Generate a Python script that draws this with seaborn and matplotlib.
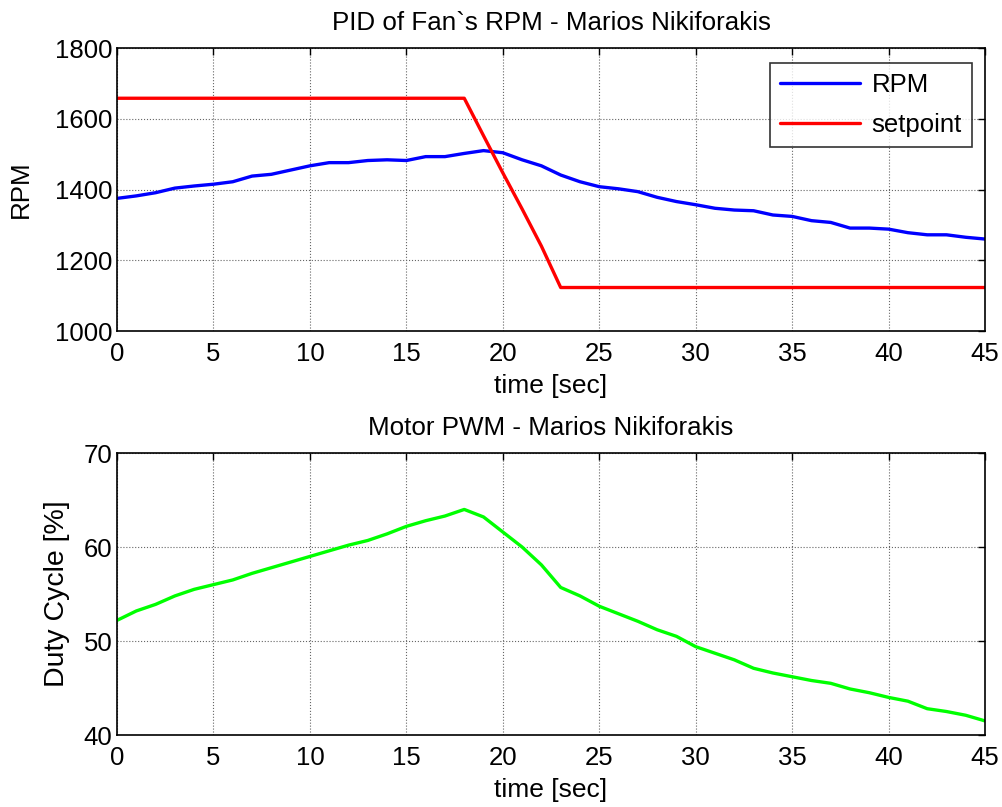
import matplotlib
matplotlib.use("Agg")
import matplotlib.pyplot as plt
import seaborn as sns
import pandas as pd

# sample times [sec]
time_s = list(range(46))

rpm = [1375, 1382, 1391, 1404, 1410, 1415, 1422, 1438, 1443, 1455,
       1467, 1476, 1476, 1482, 1484, 1482, 1493, 1493, 1502, 1510,
       1504, 1484, 1467, 1441, 1422, 1408, 1402, 1394, 1378, 1366,
       1357, 1347, 1342, 1340, 1328, 1324, 1312, 1307, 1291, 1291,
       1288, 1278, 1272, 1272, 1265, 1260]

setpoint_t = [0, 18, 19, 20, 21, 22, 23, 45]
setpoint = [1658, 1658, 1552, 1447, 1345, 1240, 1123, 1123]

duty = [52.2, 53.2, 53.9, 54.8, 55.5, 56.0, 56.5, 57.2, 57.8, 58.4,
        59.0, 59.6, 60.2, 60.7, 61.4, 62.2, 62.8, 63.3, 64.0, 63.2,
        61.6, 60.0, 58.1, 55.7, 54.8, 53.7, 52.9, 52.1, 51.2, 50.5,
        49.4, 48.7, 48.0, 47.1, 46.6, 46.2, 45.8, 45.5, 44.9, 44.5,
        44.0, 43.6, 42.8, 42.5, 42.1, 41.5]

x_ticks = list(range(0, 46, 5))
rpm_ticks = [1000, 1200, 1400, 1600, 1800]
duty_ticks = [40, 50, 60, 70]

sns.set_style("white")
plt.rcParams["font.family"] = ["Liberation Sans", "DejaVu Sans"]
plt.rcParams["text.color"] = "black"
plt.rcParams["axes.labelcolor"] = "black"
plt.rcParams["xtick.color"] = "black"
plt.rcParams["ytick.color"] = "black"

fig = plt.figure(figsize=(10.02, 8.07), dpi=100)
ax1 = fig.add_axes([0.1168, 0.5898, 0.8663, 0.3507])
ax2 = fig.add_axes([0.1168, 0.0892, 0.8663, 0.3494])

rpm_df = pd.DataFrame({"time": time_s, "value": rpm})
sp_df = pd.DataFrame({"time": setpoint_t, "value": setpoint})
duty_df = pd.DataFrame({"time": time_s, "value": duty})

sns.lineplot(data=rpm_df, x="time", y="value", ax=ax1, color=(0, 0, 1), lw=2.4, label="RPM")
sns.lineplot(data=sp_df, x="time", y="value", ax=ax1, color=(1, 0, 0), lw=2.4, label="setpoint")
sns.lineplot(data=duty_df, x="time", y="value", ax=ax2, color=(0, 1, 0), lw=2.4, legend=False)


def matlab_axes(ax, yticks, ylabel, title, ylabel_size, ylabel_pad):
    ax.set_xlim(0, 45)
    ax.set_ylim(yticks[0], yticks[-1])
    ax.set_xticks(x_ticks)
    ax.set_yticks(yticks)
    ax.tick_params(direction="in", top=True, right=True, length=5, width=1,
                   labelsize=18.5, color="black", labelcolor="black")
    ax.tick_params(axis="x", pad=8)
    ax.tick_params(axis="y", pad=3.5)
    ax.grid(True, color="#666666", linestyle=":", linewidth=0.8)
    for s in ax.spines.values():
        s.set_color("black")
        s.set_linewidth(1.2)
    ax.set_xlabel("time [sec]", fontsize=19, labelpad=6, color="black")
    ax.set_ylabel(ylabel, fontsize=ylabel_size, labelpad=ylabel_pad, color="black")
    ax.set_title(title, fontsize=18.7, pad=13, color="black")


matlab_axes(ax1, rpm_ticks, "RPM", "PID of Fan`s RPM - Marios Nikiforakis", 18.7, 16)
matlab_axes(ax2, duty_ticks, "Duty Cycle [%]", "Motor PWM - Marios Nikiforakis", 20.5, 10)

leg = ax1.legend(loc="upper right", fontsize=18.5, frameon=True, fancybox=False,
                 edgecolor="black", handlelength=3.1, borderpad=0.4,
                 labelspacing=0.6, handletextpad=0.45, borderaxespad=0,
                 bbox_to_anchor=(0.985, 0.947))
leg.get_frame().set_linewidth(1.2)
for t in leg.get_texts():
    t.set_color("black")

fig.savefig("out.png", dpi=100)
